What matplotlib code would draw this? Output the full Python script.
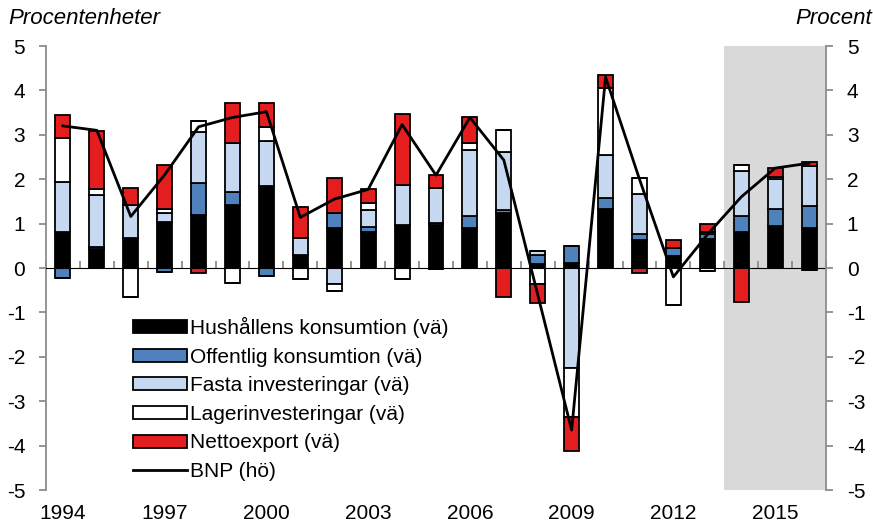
import numpy as np
import matplotlib
matplotlib.use("Agg")
import matplotlib.pyplot as plt
from matplotlib.patches import Patch
from matplotlib.lines import Line2D

plt.rcParams['font.family'] = ['Liberation Sans', 'DejaVu Sans']
plt.rcParams['axes.unicode_minus'] = False

# data, procentenheter
years = list(range(1994, 2017))
hush = [0.80, 0.42, 0.67, 1.04, 1.19, 1.42, 1.85, 0.29, 0.91, 0.82, 0.97, 0.97,
        0.91, 1.23, 0.08, 0.12, 1.34, 0.63, 0.27, 0.66, 0.82, 0.95, 0.91]
offentlig = [-0.23, 0.06, 0.00, -0.08, 0.72, 0.30, -0.18, 0.00, 0.34, 0.11, 0.00, 0.05,
             0.26, 0.08, 0.21, 0.37, 0.24, 0.14, 0.17, 0.10, 0.34, 0.38, 0.49]
fasta = [1.13, 1.16, 0.75, 0.19, 1.16, 1.10, 1.02, 0.39, -0.35, 0.38, 0.90, 0.79,
         1.49, 1.31, 0.10, -2.26, 0.96, 0.90, 0.00, 0.06, 1.03, 0.67, 0.90]
lager = [1.00, 0.15, -0.65, 0.09, 0.25, -0.33, 0.31, -0.25, -0.17, 0.15, -0.25, -0.03,
         0.16, 0.49, -0.37, -1.10, 1.51, 0.36, -0.83, -0.06, 0.13, 0.06, -0.04]
netto = [0.51, 1.30, 0.38, 1.00, -0.12, 0.89, 0.53, 0.70, 0.78, 0.31, 1.60, 0.28,
         0.57, -0.66, -0.42, -0.77, 0.30, -0.12, 0.19, 0.16, -0.77, 0.19, 0.08]
bnp = [3.20, 3.10, 1.16, 2.10, 3.18, 3.39, 3.52, 1.14, 1.55, 1.77, 3.23, 2.09,
       3.39, 2.43, -0.60, -3.65, 4.30, 2.00, -0.20, 0.75, 1.60, 2.25, 2.36]

series = [
    ("Hushållens konsumtion (vä)", hush, "#000000"),
    ("Offentlig konsumtion (vä)", offentlig, "#4F81BD"),
    ("Fasta investeringar (vä)", fasta, "#C6D9F1"),
    ("Lagerinvesteringar (vä)", lager, "#FFFFFF"),
    ("Nettoexport (vä)", netto, "#E41E1E"),
]

x = np.arange(len(years))
fs = 15
fs_txt = 16
grey = "#8C8C8C"

fig = plt.figure(figsize=(8.73, 5.27), dpi=100)
ax = fig.add_axes([46/873, 1-490/527, 780/873, 444/527])

# prognosperiod
ax.axvspan(19.5, 22.5, color="#D9D9D9", zorder=0, lw=0)

pos_base = np.zeros(len(x))
neg_base = np.zeros(len(x))
for name, vals, col in series:
    v = np.array(vals)
    pos = np.where(v > 0, v, 0)
    neg = np.where(v < 0, v, 0)
    ax.bar(x, pos, 0.44, bottom=pos_base, color=col, edgecolor="black", lw=1.3, zorder=2)
    ax.bar(x, neg, 0.44, bottom=neg_base, color=col, edgecolor="black", lw=1.3, zorder=2)
    pos_base += pos
    neg_base += neg

ax.set_xlim(-0.5, len(x) - 0.5)
ax.set_ylim(-5, 5)
ax.set_yticks(range(-5, 6))
for s in ["top", "right", "bottom"]:
    ax.spines[s].set_visible(False)
ax.spines["left"].set_color(grey)
ax.spines["left"].set_linewidth(1.3)
ax.tick_params(axis="y", colors=grey, labelcolor="black", labelsize=fs, length=5, width=1.3, pad=10)

ax.set_xticks(x[::3])
ax.set_xticklabels([str(y) for y in years[::3]])
ax.tick_params(axis="x", length=0, pad=10, labelsize=fs)

# nollinje med små streck mellan åren
zero = ax.secondary_xaxis(0.5)
zero.set_xticks([])
zero.set_xticks(np.arange(-0.5, len(x), 1), minor=True)
zero.tick_params(axis="x", which="minor", length=5, width=1.3, colors=grey, direction="out")
zero.spines["bottom"].set_color(grey)
zero.spines["bottom"].set_linewidth(1.3)
zero.set_zorder(3)

ax2 = ax.twinx()
ax2.set_ylim(-5, 5)
ax2.set_yticks(range(-5, 6))
ax2.plot(x, bnp, color="black", lw=2, zorder=5)
for s in ["top", "left", "bottom"]:
    ax2.spines[s].set_visible(False)
ax2.spines["right"].set_color(grey)
ax2.spines["right"].set_linewidth(1.3)
ax2.tick_params(axis="y", colors=grey, labelcolor="black", labelsize=fs, length=5, width=1.3, pad=10)

handles = [Patch(facecolor=c, edgecolor="black", lw=1.3, label=n) for n, _, c in series]
handles.append(Line2D([], [], color="black", lw=2, label="BNP (hö)"))
ax2.legend(handles=handles, loc="upper left", bbox_to_anchor=(133/873, 1-317/527),
           bbox_transform=fig.transFigure, frameon=False, fontsize=15,
           handlelength=2.6, handleheight=0.58, handletextpad=0.15,
           labelspacing=0.46, borderpad=0, borderaxespad=0)

fig.text(8/873, 1-18/527, "Procentenheter", fontsize=fs_txt, style="italic", va="center")
fig.text(795/873, 1-18/527, "Procent", fontsize=fs_txt, style="italic", va="center")

fig.savefig("out.png", dpi=100)
